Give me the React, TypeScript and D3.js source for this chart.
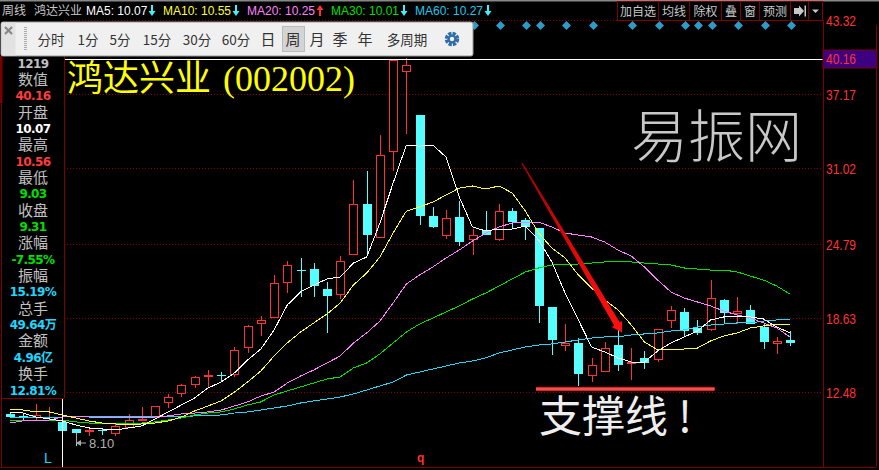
import * as d3 from 'd3';

// weekly bars
const opens = [10.74,10.58,10.49,10.56,10.07,9.50,9.29,9.37,9.17,9.66,10.28,10.49,11.74,12.48,13.23,13.85,14.00,14.06,16.30,18.29,18.79,21.69,22.70,22.76,21.11,20.69,24.01,28.15,25.42,32.55,39.18,35.53,27.16,25.58,27.08,25.25,25.92,25.25,27.57,26.83,26.16,19.61,16.46,16.63,13.97,14.31,16.46,14.97,15.39,15.30,18.54,19.20,17.87,17.79,20.19,19.15,19.37,17.96,16.63,16.88];
const closes = [10.49,10.53,10.66,10.60,9.31,9.17,9.37,9.30,9.75,10.24,10.33,11.40,12.15,13.14,13.81,14.00,13.95,16.05,18.04,18.54,21.60,23.10,22.66,21.35,20.53,23.43,28.15,25.58,32.22,40.09,39.68,27.16,26.25,26.99,25.00,25.58,25.58,27.57,26.66,26.25,19.70,16.88,16.63,14.06,14.80,16.21,14.80,15.05,14.97,17.79,19.37,17.62,17.46,20.36,19.12,19.28,18.20,16.71,16.80,16.63];
const highs = [10.82,10.82,11.57,11.32,10.56,9.50,9.50,9.50,9.91,10.74,11.32,11.40,12.40,13.23,13.89,14.39,14.22,16.30,18.12,18.87,22.27,23.43,23.68,23.26,21.69,23.84,30.14,30.89,33.88,40.16,40.30,35.53,27.91,27.66,28.40,26.08,27.57,28.15,27.82,26.99,26.16,19.61,18.20,17.04,15.39,16.71,17.96,16.21,15.97,17.79,19.70,19.53,18.54,21.85,20.28,20.44,19.78,18.20,17.13,17.62];
const lows = [10.41,10.16,10.24,10.24,9.03,8.10,8.92,9.00,8.92,9.58,10.24,10.49,11.24,12.15,12.89,12.98,13.39,13.81,15.80,17.21,18.79,20.77,20.44,20.44,17.46,20.28,24.01,24.09,25.42,30.89,33.96,26.41,26.16,25.25,24.67,23.93,25.58,25.09,26.16,25.17,18.29,15.63,15.97,13.06,13.39,14.22,14.31,13.56,14.47,15.05,17.87,17.21,17.29,17.62,18.20,18.20,18.20,16.13,15.72,16.38];

const ma5 = [10.91,10.82,10.49,10.33,10.16,9.83,9.58,9.50,9.41,9.58,9.75,10.33,10.91,11.49,12.07,12.89,13.39,14.14,15.22,16.13,17.71,19.78,20.86,21.44,21.94,22.10,23.26,23.76,26.58,29.90,33.05,32.96,33.05,32.05,28.73,26.25,25.92,26.08,26.08,26.33,25.17,23.35,20.77,18.54,16.30,15.88,15.39,15.05,15.05,15.97,16.63,17.13,17.62,18.54,18.79,18.79,18.79,18.62,17.96,17.46];
const ma10 = [11.07,11.07,10.91,10.91,10.66,10.41,10.16,9.99,9.91,9.83,9.91,9.99,10.16,10.49,10.99,11.40,11.82,12.56,13.39,14.31,15.55,16.63,17.54,18.29,19.03,19.95,21.44,22.43,23.76,25.75,27.57,27.91,28.32,28.90,29.48,29.65,29.40,29.65,29.07,27.57,25.75,24.51,23.68,22.27,21.19,20.19,19.37,18.12,16.71,16.05,16.05,16.13,16.21,16.80,17.21,17.46,17.87,18.04,18.20,18.12];
const ma20 = [9.99,10.16,10.24,10.24,10.49,10.49,10.49,10.41,10.41,10.41,10.41,10.49,10.58,10.74,10.82,10.91,11.07,11.40,11.74,12.23,12.56,13.31,13.89,14.39,14.97,15.55,16.63,17.46,18.45,19.95,21.52,22.27,22.93,23.68,24.34,25.09,25.75,26.25,26.58,26.66,26.66,26.25,25.75,25.58,25.42,25.00,24.34,23.84,22.93,21.85,20.86,20.36,20.03,19.70,19.28,18.95,18.70,18.29,17.87,17.13];
const ma30 = [10.24,10.24,10.24,10.24,10.24,10.08,9.99,9.99,9.99,9.99,9.99,10.08,10.24,10.41,10.66,10.82,10.91,11.16,11.49,11.74,12.32,12.65,12.98,13.31,13.64,13.81,14.56,14.97,15.72,16.63,17.54,18.20,18.70,19.20,19.70,20.28,20.77,21.35,21.94,22.52,22.85,23.10,23.18,23.18,23.26,23.35,23.35,23.35,23.26,23.18,23.10,22.85,22.76,22.68,22.68,22.52,22.18,21.85,21.35,20.69];
const ma60 = [10.41,10.41,10.41,10.41,10.49,10.49,10.49,10.49,10.49,10.49,10.49,10.49,10.49,10.49,10.58,10.58,10.66,10.82,10.91,11.07,11.24,11.40,11.65,11.82,11.98,12.15,12.40,12.73,13.06,13.39,13.97,14.22,14.47,14.72,14.97,15.14,15.39,15.80,16.05,16.30,16.46,16.55,16.71,16.88,17.04,17.13,17.13,17.29,17.38,17.46,17.62,17.71,17.96,18.12,18.20,18.29,18.29,18.45,18.54,18.62];

const maSeries = [ma60, ma30, ma20, ma10, ma5];
const maColors = ['#22d8f8', '#00e000', '#ff80ff', '#ffff33', '#ffffff'];

const axisTicks = [43.32, 37.17, 31.02, 24.79, 18.63, 12.48];
const maxPrice = 40.16;
const lowPrice = 8.1;
const eventBars = [35,37,39,40,42,44,47,49,51,52,53,55,57,59];
const hoverBar = 4;

const infoRows = [
  ['1219', '#c0c0c0'], ['数值', '#c0c0c0'], ['40.16', '#ff3c3c'], ['开盘', '#c0c0c0'], ['10.07', '#ffffff'],
  ['最高', '#c0c0c0'], ['10.56', '#ff3c3c'], ['最低', '#c0c0c0'], ['9.03', '#00e000'], ['收盘', '#c0c0c0'],
  ['9.31', '#00e000'], ['涨幅', '#c0c0c0'], ['-7.55%', '#00e000'], ['振幅', '#c0c0c0'], ['15.19%', '#1fd8ff'],
  ['总手', '#c0c0c0'], ['49.64万', '#1fd8ff'], ['金额', '#c0c0c0'], ['4.96亿', '#1fd8ff'], ['换手', '#c0c0c0'], ['12.81%', '#1fd8ff'],
];
const maLabels = [
  ['MA5: 10.07', '#ffffff', 86, 152, 'down'],
  ['MA10: 10.55', '#ffff33', 163, 236, 'down'],
  ['MA20: 10.25', '#ff80ff', 247, 320, 'up'],
  ['MA30: 10.01', '#00e000', 331, 404, 'down'],
  ['MA60: 10.27', '#1fc8f0', 415, 488, 'down'],
];
const topButtons = [['加自选', 617, 658], ['均线', 658, 689], ['除权', 689, 721], ['叠', 721, 740], ['窗', 740, 759], ['预测', 759, 790]];
const periods = [['分时', 51], ['1分', 88], ['5分', 120], ['15分', 157], ['30分', 197], ['60分', 236], ['日', 268], ['周', 293], ['月', 317], ['季', 340], ['年', 365], ['多周期', 407]];

const RED = '#ff3232';
const CYAN = '#55ffff';
const DARK = '#800000';
const CJK = '"Noto Sans CJK SC", sans-serif';
const SANS = '"Liberation Sans", Arial, sans-serif';

const x = d3.scaleLinear().domain([0, 59]).range([9.5, 790]);
const y = d3.scaleLinear().domain([12.48, 43.32]).range([393, 21.2]);
const px = (v: number) => Math.round(v);

function Candle({ i }: { i: number }) {
  const up = closes[i] >= opens[i];
  const c = up ? RED : CYAN;
  const cx = px(x(i));
  const top = px(y(Math.max(opens[i], closes[i])));
  const bottom = px(y(Math.min(opens[i], closes[i])));
  return (
    <g>
      <line x1={cx + 0.5} x2={cx + 0.5} y1={px(y(highs[i]))} y2={px(y(lows[i]))} stroke={c} />
      {up ? (
        <rect x={cx - 3.5} y={top + 0.5} width={8} height={bottom - top} fill="#000" stroke={c} />
      ) : (
        <rect x={cx - 4} y={top} width={9} height={Math.max(bottom - top, 1)} fill={c} />
      )}
    </g>
  );
}

function Arrow({ cx, dir, color }: { cx: number; dir: string; color: string }) {
  const p = dir === 'down' ? 'M-1 -5H1V1H3.5L0 6L-3.5 1H-1Z' : 'M-1 6H1V0H3.5L0 -5L-3.5 0H-1Z';
  return <path transform={`translate(${cx},10)`} d={p} fill={color} />;
}

// the hand-drawn red arrow on the chart, from start to tip in bar/price units
const arrowStart = [38.74, 31.55];
const arrowTip = [46.3, 17.5];
const supportLine = [39.8, 53.3, 12.82];

function drawnArrow() {
  const x0 = x(arrowStart[0]), y0 = y(arrowStart[1]);
  const x1 = x(arrowTip[0]), y1 = y(arrowTip[1]);
  const len = Math.hypot(x1 - x0, y1 - y0);
  const ux = (x1 - x0) / len, uy = (y1 - y0) / len;
  const nx = -uy, ny = ux;
  const neck = 10;
  const bx = x1 - ux * neck, by = y1 - uy * neck;
  const pts = [
    [x0 + nx * 0.7, y0 + ny * 0.7],
    [bx + nx * 3.2, by + ny * 3.2],
    [bx + nx * 6, by + ny * 6],
    [x1, y1],
    [bx - nx * 6, by - ny * 6],
    [bx - nx * 3.2, by - ny * 3.2],
    [x0 - nx * 0.7, y0 - ny * 0.7],
  ];
  return pts.map(p => p.join(',')).join(' ');
}

export default function App() {
  const line = d3.line<number>().x((_, i) => x(i)).y(d => y(d));
  const yMax = px(y(maxPrice));
  const hoverX = px(x(hoverBar)) + 0.5;
  const lowY = px(y(lowPrice));
  const lowX = px(x(5)) + 0.5;

  return (
    <svg width={879} height={470} style={{ position: 'absolute', left: 0, top: 0, background: '#000' }}>
      <defs>
        <linearGradient id="arrowFill" gradientUnits="userSpaceOnUse" x1={x(arrowStart[0])} y1={y(arrowStart[1])} x2={x(arrowTip[0])} y2={y(arrowTip[1])}>
          <stop offset="0" stopColor="#a00000" />
          <stop offset="0.5" stopColor="#e00808" />
          <stop offset="1" stopColor="#ff1010" />
        </linearGradient>
      </defs>
      <rect x={0} y={0} width={879} height={1.5} fill="#888" />

      {/* grid */}
      {axisTicks.map(t => (
        <line key={t} x1={64} x2={823} y1={px(y(t)) - 0.5} y2={px(y(t)) - 0.5} stroke={DARK} strokeDasharray="1 2" />
      ))}

      {/* candles and averages */}
      {opens.map((_, i) => <Candle key={i} i={i} />)}
      {maSeries.map((s, k) => (
        <path key={k} d={line(s) || ''} fill="none" stroke={maColors[k]} strokeWidth={1} shapeRendering="crispEdges" />
      ))}

      {/* max price line */}
      <line x1={64} x2={823} y1={yMax + 0.5} y2={yMax + 0.5} stroke="#fff" />
      <line x1={hoverX} x2={hoverX} y1={398} y2={467} stroke="#fff" />

      {/* event diamonds */}
      {eventBars.map(b => (
        <path key={b} transform={`translate(${px(x(b)) + 1.5},25.5)`} d="M0 -4.5L4.5 0L0 4.5L-4.5 0Z" fill="#2e9ac8" />
      ))}

      {/* low marker */}
      <path d={`M${lowX} ${px(y(9.17))}V${lowY - 3}H86`} fill="none" stroke="#aaa" />
      <path d={`M76 ${lowY - 3}l5 -3v6Z`} fill="#aaa" />
      <text x={89} y={lowY + 2} fontFamily={SANS} fontSize={13} fill="#b0b0b0">8.10</text>

      {/* annotations */}
      <polygon points={drawnArrow()} fill="url(#arrowFill)" />
      <line x1={x(supportLine[0])} x2={x(supportLine[1])} y1={y(supportLine[2])} y2={y(supportLine[2])} stroke="#e82020" strokeWidth={4} />
      <line x1={x(supportLine[0])} x2={x(supportLine[1])} y1={y(supportLine[2])} y2={y(supportLine[2])} stroke="#ff5c5c" strokeWidth={1.5} />
      <text x={67} y={91} fontFamily={`"Liberation Serif", ${CJK}`} fontSize={36} fill="#ffff00">鸿达兴业<tspan x={223}>(002002)</tspan></text>
      <text x={631} y={157} fontFamily={CJK} fontSize={57} fontWeight={300} fill="#c8c8c8">易振网</text>
      <text x={539} y={432} fontFamily={CJK} fontSize={43} fill="#eeeeee">支撑线<tspan x={678}>!</tspan></text>
      <text x={44} y={463} fontFamily={SANS} fontSize={14} fill="#1fd8ff">L</text>
      <text x={417} y={462} fontFamily={SANS} fontSize={12} fontWeight={700} fill={RED}>q</text>

      {/* info panel */}
      <rect x={0} y={56} width={64} height={342} fill="#000" />
      <rect x={0} y={56} width={2.5} height={47} fill="#7a0000" />
      <line x1={1.5} x2={1.5} y1={56} y2={467} stroke={DARK} />
      <line x1={64.5} x2={64.5} y1={56} y2={398} stroke={DARK} />
      <line x1={1} x2={64} y1={398.5} y2={398.5} stroke={DARK} />
      <line x1={1} x2={876} y1={467.5} y2={467.5} stroke={DARK} />
      {infoRows.map(([t, c], i) => {
        const isCjk = i % 2 === 1 && i > 0;
        return (
          <text key={i} x={33} y={isCjk ? 68.5 + i * 16.35 : 67.5 + i * 16.35} textAnchor="middle" fill={c} letterSpacing={isCjk ? 0 : -0.6}
            fontFamily={isCjk ? CJK : `"DejaVu Sans", ${CJK}`} fontSize={isCjk ? 15 : 12} fontWeight={isCjk ? 400 : 700}>{t}</text>
        );
      })}

      {/* right axis */}
      <line x1={823.5} x2={823.5} y1={20} y2={467} stroke={DARK} />
      <line x1={876.5} x2={876.5} y1={25} y2={467} stroke={DARK} />
      <rect x={823} y={50} width={54} height={18} fill="#3d0080" stroke={DARK} />
      <text x={826} y={64} fontFamily={SANS} fontSize={14} textLength={30} lengthAdjust="spacingAndGlyphs" fill={RED}>40.16</text>
      {axisTicks.map(t => (
        <text key={t} x={826} y={px(y(t)) + 5} fontFamily={SANS} fontSize={14} textLength={30} lengthAdjust="spacingAndGlyphs" fill={RED}>{t.toFixed(2)}</text>
      ))}

      {/* header */}
      <text x={2} y={15} fontFamily={CJK} fontSize={12} fill="#c8c8c8">周线</text>
      <text x={34} y={15} fontFamily={CJK} fontSize={12} fill="#c8c8c8">鸿达兴业</text>
      {maLabels.map(([t, c, lx, ax, dir]) => (
        <g key={t as string}>
          <text x={lx as number} y={15} fontFamily={SANS} fontSize={12} fill={c as string}>{t}</text>
          <Arrow cx={ax as number} dir={dir as string} color={dir === 'up' ? RED : '#40f0ff'} />
        </g>
      ))}
      {topButtons.map(([t, a, b]) => (
        <g key={t as string}>
          <rect x={(a as number) + 0.5} y={1.5} width={(b as number) - (a as number)} height={19} fill="#000" stroke={DARK} />
          <text x={((a as number) + (b as number)) / 2 + 0.5} y={16} textAnchor="middle" fontFamily={CJK} fontSize={12} fill="#c8c8c8">{t}</text>
        </g>
      ))}
      <rect x={790.5} y={1.5} width={18} height={19} fill="#000" stroke={DARK} />
      <rect x={808.5} y={1.5} width={14} height={19} fill="#000" stroke={DARK} />
      <path d="M794 8H799V5.5L804 11L799 16.5V14H794Z M804.5 5.5H806V16.5H804.5Z" fill="#c8c8c8" />
      <path d="M812 9.5H819L815.5 13Z" fill="#c8c8c8" />

      {/* period toolbar */}
      <rect x={1} y={22} width={472} height={34} rx={2} fill="#f0f0f0" stroke="#999" />
      <rect x={1.5} y={22.5} width={14} height={33} fill="#e2e2e2" />
      <path d="M5 27L12 34M12 27L5 34" stroke="#888" strokeWidth={2.2} />
      <line x1={25.5} x2={25.5} y1={27} y2={51} stroke="#aaa" strokeWidth={3} strokeDasharray="1 1" />
      <rect x={282.5} y={26.5} width={22} height={25} fill="#d4d4d4" stroke="#bbb" />
      {periods.map(([t, cx]) => (
        <text key={t as string} x={cx as number} y={(t as string).length === 1 ? 45 : 44.5} textAnchor="middle"
          fontFamily={CJK} fontSize={(t as string).length === 1 ? 15 : 13.5} fill="#333">{t}</text>
      ))}
      <g transform="translate(452,39)">
        <circle r={5.5} fill="none" stroke="#2f6ea8" strokeWidth={3.5} strokeDasharray="3.2 1.1" />
        <circle r={4.6} fill="#2f6ea8" />
        <circle r={2.2} fill="#f0f0f0" />
      </g>
    </svg>
  );
}
